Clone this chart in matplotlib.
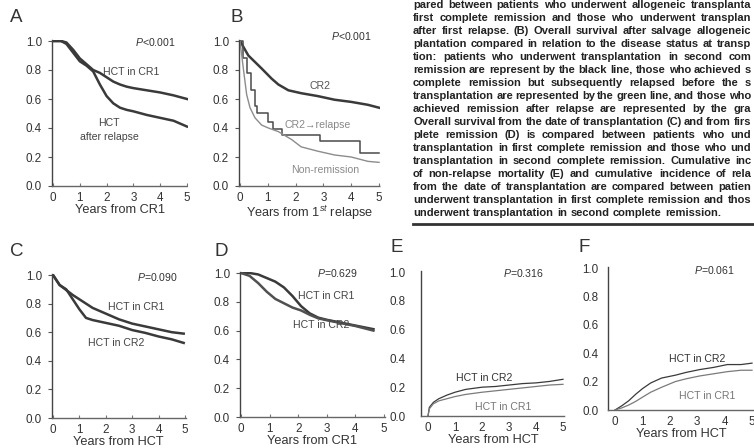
import matplotlib
matplotlib.use('Agg')
import matplotlib.pyplot as plt
from matplotlib import font_manager
from matplotlib.lines import Line2D

installed = {f.name for f in font_manager.fontManager.ttflist}
NARROW = 'Liberation Sans Narrow' in installed
FONT = 'Liberation Sans Narrow' if NARROW else 'Liberation Sans'
plt.rcParams['font.family'] = [FONT, 'DejaVu Sans']
plt.rcParams['mathtext.fontset'] = 'custom'
plt.rcParams['mathtext.rm'] = FONT
plt.rcParams['mathtext.it'] = FONT + ':italic'

W, H = 754, 448

# ---- data ----
a_t = [0, 0.3, 0.5, 0.75, 1.0, 1.25, 1.5, 1.75, 2.0, 2.25, 2.5, 2.75, 3.0, 3.5, 4.0, 4.5, 5.0]
a_cr1 = [1.0, 1.0, 0.99, 0.94, 0.88, 0.84, 0.80, 0.78, 0.75, 0.72, 0.70, 0.685, 0.675, 0.66, 0.645, 0.625, 0.60]
a_relapse = [1.0, 1.0, 0.98, 0.92, 0.86, 0.83, 0.79, 0.70, 0.62, 0.57, 0.54, 0.525, 0.515, 0.49, 0.47, 0.45, 0.41]

b_cr2_t = [0, 0.3, 0.78, 1.14, 1.38, 1.74, 2.2, 2.8, 3.4, 4.0, 4.6, 5.0]
b_cr2 = [1.0, 0.90, 0.81, 0.74, 0.70, 0.66, 0.64, 0.62, 0.595, 0.58, 0.56, 0.54]
b_rel_t = [0, 0.1, 0.25, 0.4, 0.55, 0.6, 1.02, 1.2, 1.5, 2.88, 4.32, 5.0]
b_rel = [1.0, 0.88, 0.78, 0.66, 0.55, 0.50, 0.44, 0.39, 0.35, 0.31, 0.23, 0.23]
b_non_t = [0, 0.12, 0.24, 0.36, 0.54, 0.78, 1.02, 1.38, 1.86, 2.2, 2.8, 3.4, 4.0, 4.6, 5.0]
b_non = [1.0, 0.81, 0.63, 0.54, 0.47, 0.42, 0.40, 0.375, 0.32, 0.27, 0.24, 0.214, 0.20, 0.17, 0.163]

c_t = [0, 0.25, 0.5, 0.75, 1.0, 1.25, 1.5, 2.0, 2.5, 3.0, 3.5, 4.0, 4.5, 4.95]
c_cr1 = [1.0, 0.93, 0.895, 0.86, 0.83, 0.80, 0.77, 0.73, 0.69, 0.66, 0.64, 0.62, 0.60, 0.59]
c_cr2 = [1.0, 0.93, 0.90, 0.83, 0.76, 0.70, 0.685, 0.665, 0.645, 0.615, 0.595, 0.57, 0.55, 0.525]

d_t = [0, 0.3, 0.6, 0.9, 1.2, 1.5, 1.8, 2.1, 2.4, 2.7, 3.0, 3.5, 4.0, 4.63]
d_cr1 = [1.0, 1.0, 0.99, 0.965, 0.94, 0.90, 0.84, 0.77, 0.72, 0.69, 0.675, 0.655, 0.635, 0.61]
d_cr2 = [1.0, 0.98, 0.93, 0.87, 0.82, 0.79, 0.76, 0.74, 0.71, 0.685, 0.672, 0.652, 0.632, 0.60]

e_t = [0, 0.05, 0.2, 0.4, 0.7, 1.0, 1.4, 2.0, 2.5, 3.0, 3.5, 4.0, 4.5, 5.0]
e_cr2 = [0, 0.06, 0.095, 0.12, 0.145, 0.165, 0.185, 0.20, 0.205, 0.215, 0.225, 0.23, 0.24, 0.255]
e_cr1 = [0, 0.05, 0.085, 0.105, 0.12, 0.135, 0.15, 0.165, 0.175, 0.185, 0.195, 0.205, 0.215, 0.22]

f_t = [0, 0.25, 0.5, 0.75, 1.0, 1.3, 1.7, 2.2, 2.6, 3.1, 3.6, 4.1, 4.6, 5.0]
f_cr2 = [0, 0.03, 0.065, 0.11, 0.15, 0.19, 0.225, 0.245, 0.265, 0.285, 0.30, 0.32, 0.32, 0.33]
f_cr1 = [0, 0.015, 0.035, 0.06, 0.09, 0.125, 0.16, 0.20, 0.22, 0.24, 0.255, 0.27, 0.28, 0.28]

yticks = [0.0, 0.2, 0.4, 0.6, 0.8, 1.0]
xticks = [0, 1, 2, 3, 4, 5]

# legend text as far as it shows before the page edge
caption = [
    "pared between patients who underwent allogeneic transplanta",
    "first complete remission and those who underwent transplan",
    "after first relapse. (B) Overall survival after salvage allogeneic",
    "plantation compared in relation to the disease status at transp",
    "tion: patients who underwent transplantation in second com",
    "remission are represent by the black line, those who achieved s",
    "complete remission but subsequently relapsed before the s",
    "transplantation are represented by the green line, and those who",
    "achieved remission after relapse are represented by the gra",
    "Overall survival from the date of transplantation (C) and from firs",
    "plete remission (D) is compared between patients who und",
    "transplantation in first complete remission and those who und",
    "transplantation in second complete remission. Cumulative inc",
    "of non-relapse mortality (E) and cumulative incidence of rela",
    "from the date of transplantation are compared between patien",
    "underwent transplantation in first complete remission and thos",
    "underwent transplantation in second complete remission.",
]

INK = '#333333'
TICK_FS = 9.6 if NARROW else 8.4
XLAB_FS = 10.6 if NARROW else 9.2

fig = plt.figure(figsize=(W / 100, H / 100), dpi=100)


def fx(px):
    return px / W


def fy(py):
    return 1 - py / H


def panel(x0, x5, y1, y0, xmin, xmax, ylabelpad):
    # x0/x5: pixel of t=0 and t=5, y1/y0: pixel of 1.0 and 0.0
    sx = (x5 - x0) / 5.0
    sy = (y0 - y1)
    ymax = 1.01
    left = x0 + xmin * sx
    right = x0 + xmax * sx
    top = y0 - ymax * sy
    ax = fig.add_axes([fx(left), fy(y0), (right - left) / W, (y0 - top) / H])
    ax.set_xlim(xmin, xmax)
    ax.set_ylim(0, ymax)
    ax.set_facecolor('none')
    for s in ['top', 'right']:
        ax.spines[s].set_visible(False)
    ax.spines['left'].set_color('#444444')
    ax.spines['left'].set_linewidth(1.0)
    ax.spines['bottom'].set_color('#666666')
    ax.spines['bottom'].set_linestyle((0, (1, 1)))
    ax.spines['bottom'].set_linewidth(1.0)
    ax.set_xticks(xticks)
    ax.set_yticks(yticks)
    ax.set_yticklabels(['%.1f' % v for v in yticks])
    ax.tick_params(axis='y', direction='out', length=3, width=0.8, color='#555555',
                   pad=ylabelpad, labelsize=TICK_FS, labelcolor=INK)
    ax.tick_params(axis='x', direction='in', length=2, width=0.8, color='#777777',
                   pad=4, labelsize=TICK_FS, labelcolor=INK)
    return ax


def label(px, py, s, **kw):
    kw.setdefault('fontsize', TICK_FS - 0.8)
    kw.setdefault('color', '#444444')
    fig.text(fx(px), fy(py), s, ha='center', va='center', **kw)


def pval(px, py, s):
    fig.text(fx(px), fy(py), s, ha='center', va='center',
             fontsize=TICK_FS - 0.8, color=INK)


def letter(px, py, s):
    fig.text(fx(px), fy(py), s, ha='left', va='center', fontsize=13.5, color=INK)


THICK = dict(color='#3a3a3a', lw=1.8)

# A
ax = panel(53, 187, 41, 186, -0.05, 5.02, 4)
ax.plot(a_t, a_cr1, **THICK)
ax.plot(a_t, a_relapse, **THICK)
ax.set_xlabel('Years from CR1', fontsize=XLAB_FS, color=INK, labelpad=0)
letter(10, 17, 'A')
pval(155, 42, '$\\it{P}$<0.001')
label(131, 72, 'HCT in CR1')
label(109, 123, 'HCT')
label(109, 137, 'after relapse')

# B
ax = panel(240, 379, 41, 186, -0.05, 5.02, 4)
ax.plot(b_cr2_t, b_cr2, **THICK)
ax.step(b_rel_t, b_rel, where='post', color='#4a4a4a', lw=1.1)
ax.plot(b_non_t, b_non, color='#8c8c8c', lw=1.0)
ax.set_xlabel('Years from 1$^{st}$ relapse', fontsize=XLAB_FS, color=INK, labelpad=0)
letter(230, 17, 'B')
pval(351, 36, '$\\it{P}$<0.001')
label(320, 86, 'CR2', color='#555555')
label(318, 125, 'CR2\u2192relapse', color='#888888')
label(325, 170, 'Non-remission', color='#8a8a8a')

# C
ax = panel(53, 185, 275, 418, -0.05, 5.02, 4)
ax.plot(c_t, c_cr1, **THICK)
ax.plot(c_t, c_cr2, **THICK)
ax.set_xlabel('Years from HCT', fontsize=XLAB_FS, color=INK, labelpad=0)
letter(10, 252, 'C')
pval(157, 277, '$\\it{P}$=0.090')
label(136, 307, 'HCT in CR1')
label(116, 343, 'HCT in CR2')

# D
ax = panel(241, 384, 273, 417, -0.05, 5.02, 4)
ax.plot(d_t, d_cr1, color='#3a3a3a', lw=1.8)
ax.plot(d_t, d_cr2, color='#505050', lw=1.8)
ax.set_xlabel('Years from CR1', fontsize=XLAB_FS, color=INK, labelpad=0)
letter(215, 252, 'D')
pval(337, 273, '$\\it{P}$=0.629')
label(326, 296, 'HCT in CR1')
label(321, 325, 'HCT in CR2')

# E
ax = panel(428, 563, 272, 416, -0.26, 5.08, 8)
ax.tick_params(axis='y', length=0, pad=11)
ax.tick_params(axis='x', length=0)
ax.plot(e_t, e_cr2, color='#3a3a3a', lw=0.9)
ax.plot(e_t, e_cr1, color='#7a7a7a', lw=0.9)
ax.set_xlabel('Years from HCT', fontsize=XLAB_FS, color=INK, labelpad=0)
letter(391, 247, 'E')
pval(523, 273, '$\\it{P}$=0.316')
label(484, 378, 'HCT in CR2', color='#333333')
label(503, 407, 'HCT in CR1', color='#777777')

# F
ax = panel(615, 752, 268, 410, -0.25, 5.1, 8)
ax.tick_params(axis='y', length=0, pad=7)
ax.tick_params(axis='x', length=0)
ax.plot(f_t, f_cr2, color='#3a3a3a', lw=0.9)
ax.plot(f_t, f_cr1, color='#7a7a7a', lw=0.9)
ax.set_xlabel('Years from HCT', fontsize=XLAB_FS, color=INK, labelpad=0)
letter(578, 247, 'F')
pval(714, 270, '$\\it{P}$=0.061')
label(697, 359, 'HCT in CR2', color='#333333')
label(707, 396, 'HCT in CR1', color='#777777')

# caption block, justified between x=413 and the page edge
cap_fs = 9.3 if NARROW else 8.0
renderer = fig.canvas.get_renderer()
x_left, x_right = 413, 751
for i, line in enumerate(caption):
    words = line.split(' ')
    arts = [fig.text(0, fy(5 + i * 13.0), w, ha='left', va='center',
                     fontsize=cap_fs, fontweight='bold', color='#222222',
                     family=[FONT, 'DejaVu Sans']) for w in words]
    widths = [a.get_window_extent(renderer).width for a in arts]
    if i == len(caption) - 1:
        gap = cap_fs * 0.3 * 100 / 72
    else:
        gap = (x_right - x_left - sum(widths)) / (len(words) - 1)
    x = x_left
    for a, w in zip(arts, widths):
        a.set_x(fx(x))
        x += w + gap
fig.add_artist(Line2D([fx(413), fx(760)], [fy(224), fy(224)], color='#333333', lw=2.0))

fig.savefig('out.png', dpi=100, facecolor='white')
